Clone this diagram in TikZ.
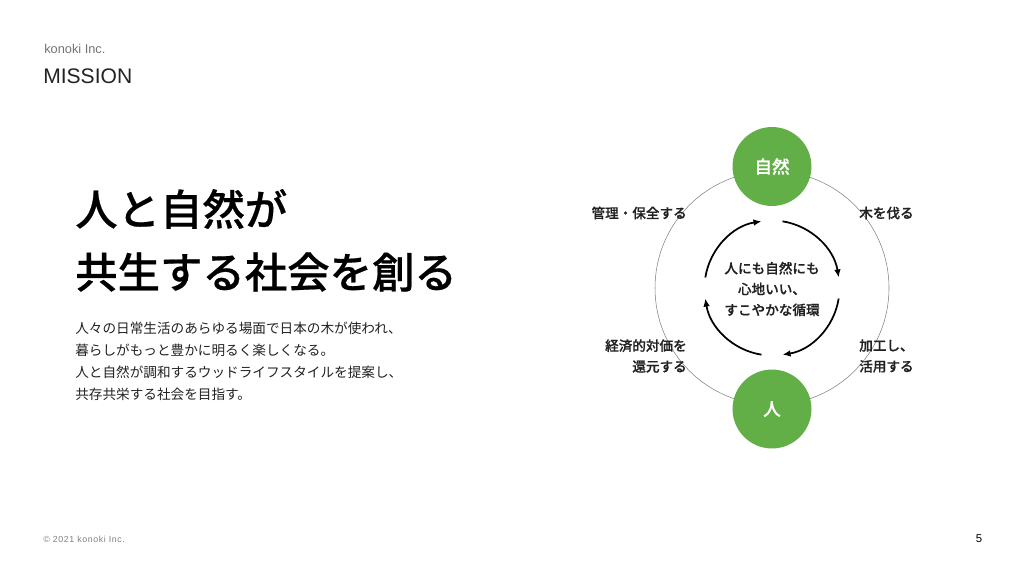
\documentclass[tikz,border=0pt]{standalone}
\usepackage{fontspec}
\usetikzlibrary{calc,arrows.meta}
\setmainfont{Noto Sans CJK JP}
\newfontfamily\latinfont{Liberation Sans}
\newfontfamily\spacedfont[LetterSpace=7]{Liberation Sans}
\newfontfamily\mediumfont[FakeBold=0.5]{Noto Sans CJK JP Medium}
\definecolor{leaf}{HTML}{62AE47}
\definecolor{ink}{HTML}{222222}
\tikzset{
  label text/.style={inner sep=0pt,text=ink,font=\mediumfont\fontsize{10.2}{15.6}\selectfont},
  body text/.style={inner sep=0pt,text=ink,anchor=west,align=left,font=\fontsize{10.22}{16.5}\selectfont},
  head text/.style={inner sep=0pt,text=black,anchor=west,font=\mediumfont\fontsize{31.8}{38}\selectfont},
  green disc/.style={circle,fill=leaf,inner sep=0pt,minimum size=59.2pt,text=white,font=\mediumfont\fontsize{13.2}{16}\selectfont},
  cycle line/.style={-{Latex[length=6pt,width=5pt]},line width=1.3pt}
}
\begin{document}
\begin{tikzpicture}
\begin{scope}[x=0.75pt,y=0.75pt]
\useasboundingbox (0,0) rectangle (1024,576);

% header
\node[inner sep=0pt,anchor=west,text=black!55,font=\latinfont\fontsize{9.6}{12}\selectfont] (company) at (44,527) {konoki Inc.};
\node[inner sep=0pt,anchor=west,text=ink,font=\latinfont\fontsize{15.8}{18}\selectfont] (mission) at (43,500) {MISSION};

% left text
\node[head text] (headone) at (75,367) {人と自然が};
\node[head text] (headtwo) at (75,304) {共生する社会を創る};
\node[body text] (body) at (75,215) {人々の日常生活のあらゆる場面で日本の木が使われ、\\暮らしがもっと豊かに明るく楽しくなる。\\人と自然が調和するウッドライフスタイルを提案し、\\共存共栄する社会を目指す。};

% ring
\coordinate (hub) at (772,288);
\draw[line width=0.4pt,black!50] (hub) circle (117);
\node[green disc] (nature) at (772,409.5) {自然};
\node[green disc] (human) at (772,167) {人};

% cycle
\foreach \from/\to in {81/9,-9/-81,-99/-171,171/99} {
  \coordinate (arc\from) at ($(hub)+(\from:67.5)$);
  \draw[cycle line] (arc\from) arc[start angle=\from,end angle=\to,radius=67.5];
}
\node[label text,align=center] (centre) at (772,287) {人にも自然にも\\心地いい、\\すこやかな循環};

% steps
\node[label text,anchor=east] (care) at (687,363) {管理・保全する};
\node[label text,anchor=west] (cut) at (859,363) {木を伐る};
\node[label text,anchor=east,align=right] (value) at (687,220) {経済的対価を\\還元する};
\node[label text,anchor=west,align=left] (use) at (859,220) {加工し、\\活用する};

% footer
\node[inner sep=0pt,anchor=west,text=black!50,font=\spacedfont\fontsize{6.6}{8}\selectfont] (copy) at (43,37) {© 2021 konoki Inc.};
\node[inner sep=0pt,text=black,font=\latinfont\fontsize{8.5}{10}\selectfont] (page) at (979,37) {5};
\end{scope}
\end{tikzpicture}
\end{document}
